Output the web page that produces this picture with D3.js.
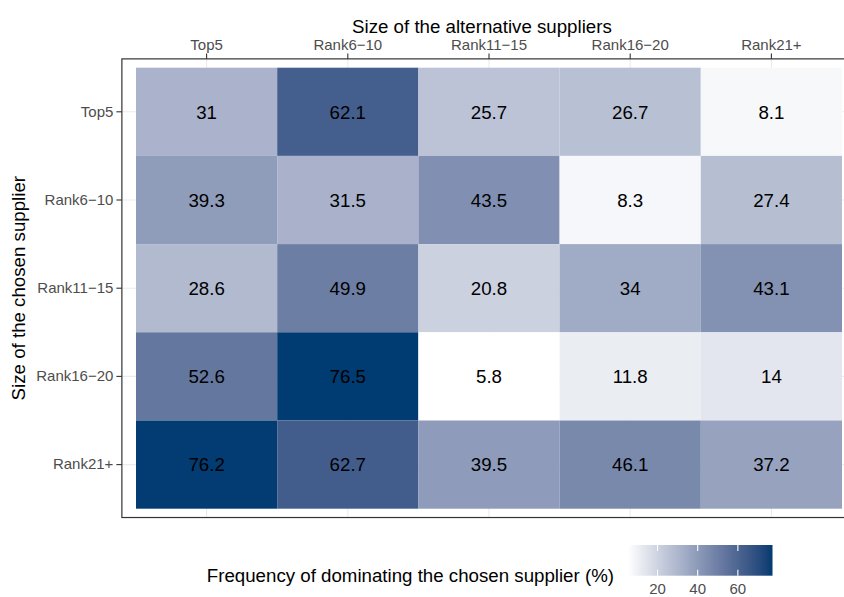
<!DOCTYPE html>
<html>
<head>
<meta charset="utf-8">
<script src="https://cdn.jsdelivr.net/npm/d3@7"></script>
<style>
  html, body { margin: 0; padding: 0; background: #fff; }
  svg { display: block; font-family: "Liberation Sans", Arial, Helvetica, sans-serif; }
</style>
</head>
<body>
<svg id="chart" width="844" height="597"></svg>
<script>
// ---- data ----
const altSuppliers = ["Top5", "Rank6\u221210", "Rank11\u221215", "Rank16\u221220", "Rank21+"];
const chosenSuppliers = ["Top5", "Rank6\u221210", "Rank11\u221215", "Rank16\u221220", "Rank21+"];
const rowTop5     = [31, 62.1, 25.7, 26.7, 8.1];
const rowRank6    = [39.3, 31.5, 43.5, 8.3, 27.4];
const rowRank11   = [28.6, 49.9, 20.8, 34, 43.1];
const rowRank16   = [52.6, 76.5, 5.8, 11.8, 14];
const rowRank21   = [76.2, 62.7, 39.5, 46.1, 37.2];
const legendTicks = [20, 40, 60];
const xTitle = "Size of the alternative suppliers";
const yTitle = "Size of the chosen supplier";
const legendTitle = "Frequency of dominating the chosen supplier (%)";

const rows = [rowTop5, rowRank6, rowRank11, rowRank16, rowRank21];
const cells = [];
rows.forEach((r, i) => r.forEach((v, j) => cells.push({ row: chosenSuppliers[i], col: altSuppliers[j], value: v })));

// ---- layout ----
const svg = d3.select("#chart");
const tileLeft = 136, tileRight = 842, tileTop = 67.7, tileBottom = 508.7;
const x = d3.scaleBand().domain(altSuppliers).range([tileLeft, tileRight]).padding(0);
const y = d3.scaleBand().domain(chosenSuppliers).range([tileTop, tileBottom]).padding(0);
const padX = x.bandwidth() * 0.1, padY = y.bandwidth() * 0.1;
const panel = { x0: tileLeft - padX, x1: tileRight + padX, y0: tileTop - padY, y1: tileBottom + padY };

const vmin = d3.min(cells, d => d.value), vmax = d3.max(cells, d => d.value);
const color = d3.scaleLinear().domain([vmin, vmax]).range(["#ffffff", "#003b71"]).interpolate(d3.interpolateLab);

// panel background
svg.append("rect").attr("x", panel.x0).attr("y", panel.y0)
  .attr("width", panel.x1 - panel.x0).attr("height", panel.y1 - panel.y0).attr("fill", "#fff");

// grid
const grid = svg.append("g").attr("stroke", "#ebebeb").attr("stroke-width", 1.1);
altSuppliers.forEach(c => grid.append("line")
  .attr("x1", x(c) + x.bandwidth() / 2).attr("x2", x(c) + x.bandwidth() / 2)
  .attr("y1", panel.y0).attr("y2", panel.y1));
chosenSuppliers.forEach(r => grid.append("line")
  .attr("y1", y(r) + y.bandwidth() / 2).attr("y2", y(r) + y.bandwidth() / 2)
  .attr("x1", panel.x0).attr("x2", panel.x1));

// tiles
svg.append("g").selectAll("rect").data(cells).join("rect")
  .attr("x", d => x(d.col)).attr("y", d => y(d.row))
  .attr("width", x.bandwidth()).attr("height", y.bandwidth())
  .attr("fill", d => color(d.value));

// labels
svg.append("g").selectAll("text").data(cells).join("text")
  .attr("x", d => x(d.col) + x.bandwidth() / 2)
  .attr("y", d => y(d.row) + y.bandwidth() / 2)
  .attr("dy", "0.36em").attr("text-anchor", "middle")
  .attr("font-size", 18.7).attr("fill", "#000")
  .text(d => d.value);

// panel border
svg.append("rect").attr("x", panel.x0).attr("y", panel.y0)
  .attr("width", panel.x1 - panel.x0).attr("height", panel.y1 - panel.y0)
  .attr("fill", "none").attr("stroke", "#333333").attr("stroke-width", 1.2);

// axes
const xAxis = svg.append("g").attr("transform", `translate(0,${panel.y0})`)
  .call(d3.axisTop(x).tickSize(5.5).tickPadding(3));
const yAxis = svg.append("g").attr("transform", `translate(${panel.x0},0)`)
  .call(d3.axisLeft(y).tickSize(5.5).tickPadding(3));
[xAxis, yAxis].forEach(a => {
  a.select(".domain").remove();
  a.selectAll(".tick line").attr("stroke", "#333333").attr("stroke-width", 1.1);
  a.selectAll(".tick text").attr("fill", "#4d4d4d").attr("font-size", 15)
    .attr("font-family", "Liberation Sans, Arial, sans-serif");
});

// axis titles
svg.append("text").attr("x", (panel.x0 + 842) / 2).attr("y", 33)
  .attr("text-anchor", "middle").attr("font-size", 18.7).attr("fill", "#000").text(xTitle);
svg.append("text").attr("transform", `translate(25,${(panel.y0 + panel.y1) / 2}) rotate(-90)`)
  .attr("text-anchor", "middle").attr("font-size", 18.7).attr("fill", "#000").text(yTitle);

// legend
const barX0 = 628, barX1 = 772.5, barY0 = 545, barY1 = 575.7;
const lx = d3.scaleLinear().domain([vmin, vmax]).range([barX0 + 1, barX1 - 1.5]);
const defs = svg.append("defs");
const grad = defs.append("linearGradient").attr("id", "lg").attr("x1", 0).attr("x2", 1).attr("y1", 0).attr("y2", 0);
d3.range(0, 1.0001, 0.05).forEach(t => grad.append("stop").attr("offset", t)
  .attr("stop-color", color(vmin + t * (vmax - vmin))));
svg.append("rect").attr("x", barX0).attr("y", barY0).attr("width", barX1 - barX0).attr("height", barY1 - barY0)
  .attr("fill", "url(#lg)");
const lt = svg.append("g");
legendTicks.forEach(v => {
  lt.append("line").attr("x1", lx(v)).attr("x2", lx(v)).attr("y1", barY0).attr("y2", barY0 + 6)
    .attr("stroke", "#fff").attr("stroke-width", 1.1);
  lt.append("line").attr("x1", lx(v)).attr("x2", lx(v)).attr("y1", barY1 - 6).attr("y2", barY1)
    .attr("stroke", "#fff").attr("stroke-width", 1.1);
  lt.append("text").attr("x", lx(v)).attr("y", 593.5).attr("text-anchor", "middle")
    .attr("font-size", 15).attr("fill", "#4d4d4d").text(v);
});
svg.append("text").attr("x", 614).attr("y", 581.5).attr("text-anchor", "end")
  .attr("font-size", 18.7).attr("fill", "#000").text(legendTitle);
</script>
</body>
</html>
